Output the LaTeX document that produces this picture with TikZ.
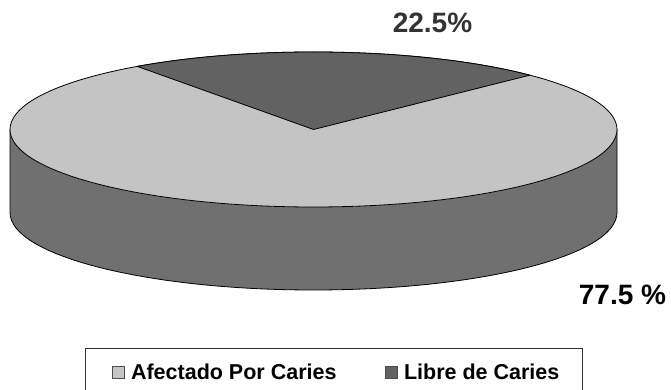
\documentclass[tikz,border=0pt]{standalone}
\usepackage{fontspec}
\setmainfont{Liberation Sans}
\usetikzlibrary{positioning}

\definecolor{afectado}{RGB}{196,196,196}
\definecolor{libre}{RGB}{98,98,98}
\definecolor{wall}{RGB}{112,112,112}

\begin{document}
\begin{tikzpicture}[
            x=1pt, y=1pt,
            outline/.style={draw=black, line width=0.8pt, line join=round},
            pct/.style={font=\fontsize{28}{30}\selectfont\bfseries, inner sep=0pt},
            legbox/.style={draw=black!80, line width=0.9pt, minimum width=497pt, minimum height=50pt, inner sep=0pt},
            swatch/.style={draw=black!70, line width=0.7pt, minimum size=12pt, inner sep=0pt},
            legtext/.style={font=\fontsize{21.5}{24}\selectfont\bfseries, inner sep=0pt, anchor=west}
        ]
        \useasboundingbox (0,0) rectangle (671,390);

        \coordinate (top) at (313.5,260.5);
        \coordinate (bottom) at (313.5,177.5);

        % cylinder wall
        \fill[wall] (10,260.5) -- (10,177.5)
            arc[start angle=180, end angle=360, x radius=303.5pt, y radius=77.5pt]
            -- (617,260.5)
            arc[start angle=0, end angle=-180, x radius=303.5pt, y radius=77.5pt] -- cycle;
        \draw[outline] (10,260.5) -- (10,177.5)
            arc[start angle=180, end angle=360, x radius=303.5pt, y radius=77.5pt]
            -- (617,260.5);

        % top face
        \filldraw[outline, fill=afectado] (top) ellipse [x radius=303.5pt, y radius=77.5pt];
        \filldraw[outline, fill=libre] (top) -- +(44.5:303.5pt and 77.5pt)
            arc[start angle=44.5, end angle=125.5, x radius=303.5pt, y radius=77.5pt] -- cycle;

        % percentages
        \node[pct, text=black!80] (libre_pct) at (432.5,367) {22.5\%};
        \node[pct] (afectado_pct) at (622.5,95) {77.5 \%};

        % legend
        \node[legbox, anchor=north west] (legend) at (85,42) {};
        \node[swatch, fill=afectado] (sw_afectado) at (118.5,18) {};
        \node[legtext, right=6pt of sw_afectado] (lab_afectado) {Afectado Por Caries};
        \node[swatch, fill=libre] (sw_libre) at (391.5,18) {};
        \node[legtext, right=6pt of sw_libre] (lab_libre) {Libre de Caries};

    \end{tikzpicture}
\end{document}
